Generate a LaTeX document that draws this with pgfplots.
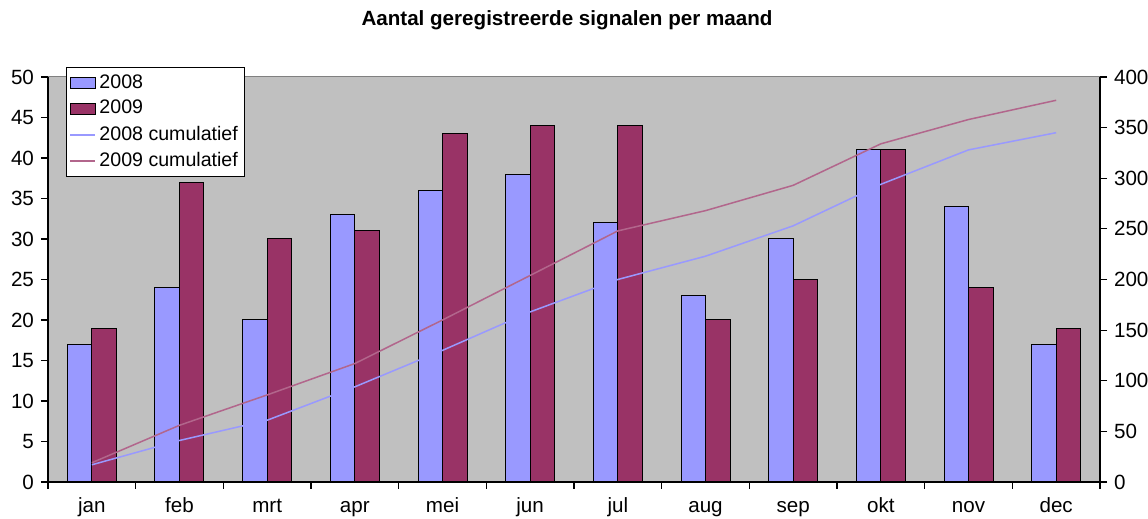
\documentclass[border=0pt]{standalone}
\usepackage{fontspec}
\setmainfont{Liberation Sans}
\usepackage{pgfplots}
\pgfplotsset{compat=1.18}
\definecolor{c08}{HTML}{9999FF}
\definecolor{c09}{HTML}{993366}
\definecolor{bg}{HTML}{C0C0C0}
\begin{document}
\begin{tikzpicture}
\useasboundingbox (0,0) rectangle (574pt,259.5pt);
\pgfplotsset{
  common/.style={
    scale only axis, width=526pt, height=202.5pt,
    at={(24pt,18.5pt)}, anchor=south west,
    xmin=-0.5, xmax=11.5,
    ticklabel style={font=\fontsize{10.3}{12}\selectfont},
    /pgf/number format/assume math mode=true,
    tick align=outside, major tick length=3.5pt,
    axis line style={black, line width=0.6pt},
    tick style={black, line width=0.6pt},
  }
}
\begin{axis}[common,
  axis background/.style={fill=bg},
  ymin=0, ymax=50, ytick={0,5,...,50},
  axis x line*=bottom, axis y line*=left,
  xtick={-0.5,0.5,...,11.5}, xticklabels={},
  extra x ticks={0,1,...,11},
  extra x tick labels={jan,feb,mrt,apr,mei,jun,jul,aug,sep,okt,nov,dec},
  extra x tick style={major tick length=0pt, xticklabel style={anchor=base, yshift=-15.5pt}},
]
\draw[gray, line width=0.5pt] (rel axis cs:0,1) -- (rel axis cs:1,1);
\addplot[ybar, bar width=12.25pt, bar shift=-6.125pt, fill=c08, draw=black, line width=0.5pt]
  coordinates {(0,17)(1,24)(2,20)(3,33)(4,36)(5,38)(6,32)(7,23)(8,30)(9,41)(10,34)(11,17)};
\addplot[ybar, bar width=12.25pt, bar shift=6.125pt, fill=c09, draw=black, line width=0.5pt]
  coordinates {(0,19)(1,37)(2,30)(3,31)(4,43)(5,44)(6,44)(7,20)(8,25)(9,41)(10,24)(11,19)};
\end{axis}
\begin{axis}[common,
  ymin=0, ymax=400, ytick={0,50,...,400},
  axis y line*=right, axis x line=none,
  legend cell align=left,
  legend image code/.code={\draw[#1] (0pt,0pt) -- (12.5pt,0pt);},
  legend style={at={(0.0171,1.0247)}, anchor=north west, draw=black, fill=white,
    font=\fontsize{9.8}{11}\selectfont, row sep=0.6pt, inner sep=1.5pt,
    nodes={inner xsep=1.8pt}},
]
\addlegendimage{legend image code/.code={\draw[fill=c08,draw=black,line width=0.5pt] (0pt,-2.75pt) rectangle (12.5pt,2.75pt);}}
\addlegendentry{2008}
\addlegendimage{legend image code/.code={\draw[fill=c09,draw=black,line width=0.5pt] (0pt,-2.75pt) rectangle (12.5pt,2.75pt);}}
\addlegendentry{2009}
\addplot[c08, line width=0.75pt, mark=none]
  coordinates {(0,17)(1,41)(2,61)(3,94)(4,130)(5,168)(6,200)(7,223)(8,253)(9,294)(10,328)(11,345)};
\addlegendentry{2008 cumulatief}
\addplot[c09!75, line width=0.75pt, mark=none]
  coordinates {(0,19)(1,56)(2,86)(3,117)(4,160)(5,204)(6,248)(7,268)(8,293)(9,334)(10,358)(11,377)};
\addlegendentry{2009 cumulatief}
\end{axis}
\node[font=\bfseries\fontsize{10.3}{12}\selectfont] at (283.5pt,249.5pt) {Aantal geregistreerde signalen per maand};
\end{tikzpicture}
\end{document}
